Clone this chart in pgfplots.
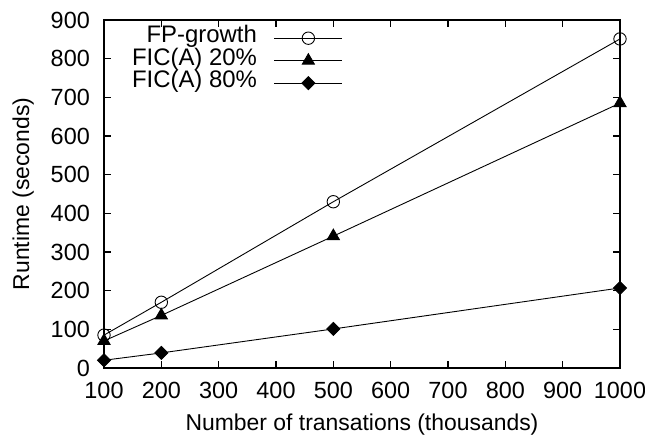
\documentclass[border=0pt]{standalone}
\usepackage{pgfplots}
\pgfplotsset{compat=1.18}
\usepackage{fontspec}
\setmainfont{Liberation Sans}
\begin{document}
\begin{tikzpicture}[x=1bp,y=1bp]
\path[use as bounding box] (-104,-69) rectangle (541,368);
\begin{axis}[
  at={(0,0)}, anchor=south west,
  scale only axis,
  width=516bp, height=348bp,
  xmin=100, xmax=1000, ymin=0, ymax=900,
  clip=false,
  xtick={100,200,...,1000}, ytick={0,100,...,900},
  tick align=inside, major tick length=7bp,
  /pgf/number format/assume math mode=true,
  /pgf/number format/1000 sep={},
  ticklabel style={font=\fontsize{23.5}{25}\selectfont, inner sep=0pt},
  xticklabel style={anchor=base, yshift=-31bp},
  yticklabel style={anchor=east, xshift=-14bp},
  xlabel={Number of transations (thousands)},
  ylabel={Runtime (seconds)},
  xlabel style={font=\fontsize{23}{25}\selectfont, inner sep=0pt,
    at={(axis description cs:0.5,-0.181)}, anchor=base},
  ylabel style={font=\fontsize{23}{25}\selectfont, inner sep=0pt,
    at={(axis description cs:-0.1453,0.5)}, anchor=base},
  axis line style={line width=1.3pt},
  every tick/.style={line width=1.1pt, black},
  legend style={draw=none, fill=none, at={(0.4632,0.9806)}, anchor=north east,
    inner sep=0pt, font=\fontsize{24}{25}\selectfont, row sep=0pt, column sep=17bp,
    nodes={inner sep=0pt, text height=16bp, text depth=6.5bp}},
  legend cell align=right,
  legend plot pos=right,
  legend image code/.code={%
    \draw[mark repeat=2, mark phase=2, #1] plot coordinates {(0bp,0bp) (34bp,0bp) (68bp,0bp)};},
]
\addplot[black, line width=0.9pt, mark=o, mark size=6.2bp, mark options={solid, line width=0.9pt}]
  coordinates {(100,85) (200,170) (500,430) (1000,851)};
\addlegendentry{FP-growth}
\addplot[black, line width=0.9pt, mark=triangle*, mark size=7bp]
  coordinates {(100,70) (200,136) (500,341) (1000,685)};
\addlegendentry{FIC(A) 20\%}
\addplot[black, line width=0.9pt, mark=square*, mark size=4.6bp, mark options={rotate=45}]
  coordinates {(100,20) (200,39) (500,101) (1000,207)};
\addlegendentry{FIC(A) 80\%}
\end{axis}
\end{tikzpicture}
\end{document}
